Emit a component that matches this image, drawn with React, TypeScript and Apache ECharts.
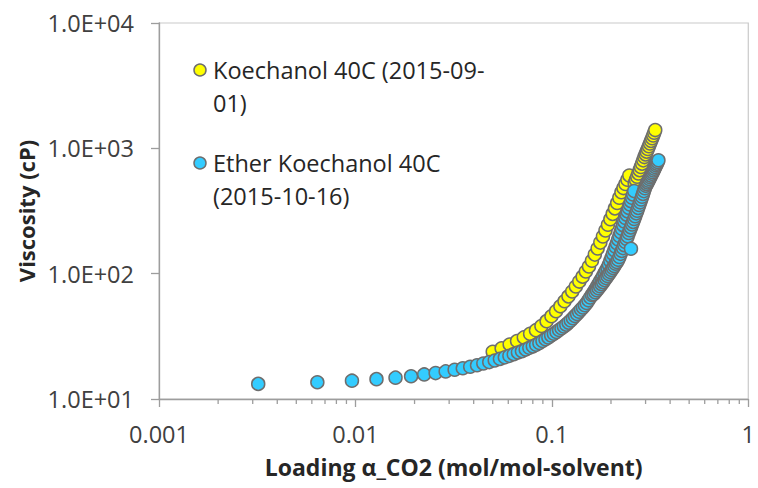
import React, { useEffect, useRef } from 'react';
import * as echarts from 'echarts';

// Axis tick labels (log decades)
const xTickLabels = ['0.001', '0.01', '0.1', '1'];
const yTickLabels = ['1.0E+01', '1.0E+02', '1.0E+03', '1.0E+04'];
// Minor tick multipliers within each x decade
const xMinorSteps = [2, 3, 4, 5, 6, 7, 8, 9];

const seriesNames = ['Koechanol 40C (2015-09-01)', 'Ether Koechanol 40C (2015-10-16)'];
const legendText = ['Koechanol 40C (2015-09-\n01)', 'Ether Koechanol 40C\n(2015-10-16)'];

// Koechanol 40C (2015-09-01): first loading run
const koeLoadingA = [
  0.0500, 0.0555, 0.0610, 0.0665, 0.0720, 0.0775, 0.0830, 0.0885, 0.0940, 0.0995,
  0.1050, 0.1105, 0.1160, 0.1215, 0.1270, 0.1325, 0.1380, 0.1435, 0.1490, 0.1545,
  0.1600, 0.1655, 0.1710, 0.1765, 0.1820, 0.1875, 0.1930, 0.1985, 0.2040, 0.2095,
  0.2150, 0.2205, 0.2260, 0.2315, 0.2370, 0.2425, 0.2480,
];
const koeViscA = [
  23.8, 25.4, 27.2, 29.0, 31.0, 33.1, 35.4, 38.2, 41.8, 45.8,
  50.2, 54.9, 60.2, 65.9, 72.1, 79.0, 86.5, 94.7, 104, 114,
  127, 142, 159, 177, 198, 221, 246, 272, 300, 332,
  366, 404, 446, 482, 520, 562, 607,
];
// Koechanol 40C (2015-09-01): high-loading run
const koeLoadingB = [
  0.264, 0.268, 0.272, 0.276, 0.280, 0.284, 0.288, 0.292, 0.296, 0.300,
  0.304, 0.308, 0.312, 0.316, 0.320, 0.324, 0.328, 0.332, 0.336,
];
const koeViscB = [
  527, 560, 594, 631, 670, 711, 755, 802, 852, 895,
  941, 988, 1039, 1092, 1147, 1205, 1267, 1331, 1399,
];

// Ether Koechanol 40C (2015-10-16): first loading run
const etherLoadingA = [
  0.0032, 0.0064, 0.0096, 0.0128, 0.0160, 0.0192, 0.0224, 0.0256, 0.0288, 0.0320,
  0.0352, 0.0384, 0.0416, 0.0448, 0.0480, 0.0512, 0.0544, 0.0576, 0.0608, 0.0640,
  0.0672, 0.0704, 0.0736, 0.0768, 0.0800, 0.0832, 0.0864, 0.0896, 0.0928, 0.0960,
  0.0992, 0.1024, 0.1056, 0.1088, 0.1120, 0.1152, 0.1184, 0.1216, 0.1248, 0.1280,
  0.1312, 0.1344, 0.1376, 0.1408, 0.1440, 0.1472, 0.1504, 0.1536, 0.1568, 0.1600,
  0.1632, 0.1664, 0.1696, 0.1728, 0.1760, 0.1792, 0.1824, 0.1856, 0.1888, 0.1920,
  0.1952, 0.1984, 0.2016, 0.2048, 0.2080, 0.2112, 0.2144, 0.2176, 0.2208, 0.2240,
  0.2272, 0.2304, 0.2336, 0.2368, 0.2400, 0.2432, 0.2464, 0.2496, 0.2528, 0.2560,
  0.2592, 0.2624,
];
const etherViscA = [
  13.2, 13.6, 14.0, 14.4, 14.8, 15.2, 15.7, 16.1, 16.6, 17.1,
  17.6, 18.1, 18.6, 19.2, 19.7, 20.3, 20.9, 21.5, 22.1, 22.8,
  23.5, 24.1, 24.8, 25.6, 26.3, 27.1, 28.0, 29.0, 30.0, 31.0,
  32.1, 33.2, 34.3, 35.5, 36.7, 37.9, 39.2, 40.7, 42.3, 44.1,
  45.9, 47.7, 49.7, 51.7, 53.8, 56.0, 58.4, 61.3, 64.5, 67.7,
  71.2, 74.8, 78.6, 82.6, 86.8, 91.2, 95.9, 101, 106, 111,
  118, 126, 135, 144, 154, 164, 175, 187, 200, 214,
  228, 244, 261, 278, 296, 314, 335, 356, 379, 403,
  429, 456,
];
// Ether Koechanol 40C (2015-10-16): high-loading run
const etherLoadingB = [
  0.1632, 0.1664, 0.1696, 0.1728, 0.1760, 0.1792, 0.1824, 0.1856, 0.1888, 0.1920,
  0.1952, 0.1984, 0.2016, 0.2048, 0.2080, 0.2112, 0.2144, 0.2176, 0.2208, 0.2240,
  0.2272, 0.2304, 0.2336, 0.2368, 0.2400, 0.2432, 0.2464, 0.2496, 0.2528, 0.2560,
  0.2592, 0.2624, 0.2656, 0.2688, 0.2720, 0.2752, 0.2784, 0.2816, 0.2848, 0.2880,
  0.2912, 0.2944, 0.2976, 0.3008, 0.3040, 0.3072, 0.3104, 0.3136, 0.3168, 0.3200,
  0.3232, 0.3264, 0.3296, 0.3328, 0.3360, 0.3392, 0.3424, 0.3456, 0.3488,
];
const etherViscB = [
  68.5, 71.1, 73.8, 76.6, 79.5, 82.5, 85.6, 88.9, 92.2, 95.7,
  99.3, 103, 107, 111, 115, 120, 124, 129, 136, 144,
  152, 160, 169, 179, 189, 199, 211, 222, 234, 247,
  259, 273, 287, 303, 318, 335, 353, 371, 391, 411,
  433, 456, 480, 502, 518, 535, 552, 569, 588, 606,
  626, 645, 666, 687, 709, 732, 755, 779, 804,
];
// Single stray reading in the ether run
const etherStrayLoading = [0.2528];
const etherStrayVisc = [158];

const seriesColors = ['#FFFF00', '#33CCFF'];
const markerBorder = '#6e6e6e';
const axisGray = '#9d9d9d';
const FONT = '"Open Sans", sans-serif';

const pairs = (xs: number[], ys: number[]) => xs.map((x, i) => [x, ys[i]]);

export default function App() {
  const ref = useRef<HTMLDivElement>(null);

  useEffect(() => {
    if (!ref.current) return;
    const chart = echarts.init(ref.current, undefined, { renderer: 'svg' });

    const koeData = [...pairs(koeLoadingA, koeViscA), ...pairs(koeLoadingB, koeViscB)];
    const etherData = [
      ...pairs(etherLoadingA, etherViscA),
      ...pairs(etherLoadingB, etherViscB),
      ...pairs(etherStrayLoading, etherStrayVisc),
    ];

    const marker = (color: string) => ({
      color,
      borderColor: markerBorder,
      borderWidth: 1.5,
      opacity: 1,
    });

    chart.setOption({
      animation: false,
      backgroundColor: '#ffffff',
      grid: {
        left: 159,
        right: 3,
        top: 23,
        bottom: 89,
        show: true,
        borderColor: '#c9c9c9',
        borderWidth: 1.2,
        backgroundColor: 'transparent',
      },
      xAxis: {
        type: 'log',
        logBase: 10,
        min: 0.001,
        max: 1,
        name: 'Loading α_CO2 (mol/mol-solvent)',
        nameLocation: 'middle',
        nameGap: 56,
        nameTextStyle: { fontFamily: FONT, fontWeight: 'bold', fontSize: 23, color: '#262626' },
        axisLine: { show: true, lineStyle: { color: axisGray, width: 1.3 } },
        axisTick: { show: true, inside: false, length: 8, lineStyle: { color: axisGray, width: 1.3 } },
        axisLabel: {
          margin: 23,
          fontFamily: FONT,
          fontSize: 23.5,
          color: '#404040',
          formatter: (v: number) => xTickLabels[Math.round(Math.log10(v)) + 3] ?? '',
        },
        splitLine: { show: false },
        minorTick: { show: false },
      },
      yAxis: {
        type: 'log',
        logBase: 10,
        min: 10,
        max: 10000,
        name: 'Viscosity (cP)',
        nameLocation: 'middle',
        nameGap: 122,
        nameRotate: 90,
        nameTextStyle: { fontFamily: FONT, fontWeight: 'bold', fontSize: 22, color: '#262626' },
        axisLine: { show: true, lineStyle: { color: axisGray, width: 1.3 } },
        axisTick: { show: true, inside: false, length: 8, lineStyle: { color: axisGray, width: 1.3 } },
        axisLabel: {
          margin: 25,
          fontFamily: FONT,
          fontSize: 23.5,
          color: '#404040',
          formatter: (v: number) => yTickLabels[Math.round(Math.log10(v)) - 1] ?? '',
        },
        splitLine: { show: false },
      },
      series: [
        {
          name: seriesNames[0],
          type: 'scatter',
          symbol: 'circle',
          symbolSize: 13,
          data: koeData,
          itemStyle: marker(seriesColors[0]),
          emphasis: { disabled: true },
        },
        {
          name: seriesNames[1],
          type: 'scatter',
          symbol: 'circle',
          symbolSize: 13,
          data: etherData,
          itemStyle: marker(seriesColors[1]),
          emphasis: { disabled: true },
        },
      ],
    });

    // Minor ticks at 2..9 within each decade, placed through the x axis scale
    const axisY = chart.convertToPixel({ yAxisIndex: 0 }, 10) as number;
    const minorTicks: any[] = [];
    xTickLabels.slice(0, -1).forEach((d) => {
      xMinorSteps.forEach((m) => {
        const px = chart.convertToPixel({ xAxisIndex: 0 }, Number(d) * m) as number;
        minorTicks.push({
          type: 'line',
          silent: true,
          shape: { x1: px, y1: axisY, x2: px, y2: axisY + 5 },
          style: { stroke: axisGray, lineWidth: 1.3 },
        });
      });
    });

    // Legend entries inside the plot
    const legendItems: any[] = [];
    const legendTop = [70, 163];
    seriesNames.forEach((_, i) => {
      legendItems.push({
        type: 'circle',
        silent: true,
        shape: { cx: 200, cy: legendTop[i], r: 6 },
        style: { fill: seriesColors[i], stroke: markerBorder, lineWidth: 1.5 },
      });
      legendItems.push({
        type: 'text',
        silent: true,
        x: 213,
        y: legendTop[i] - 16.5,
        style: {
          text: legendText[i],
          fontFamily: FONT,
          fontSize: 23.5,
          lineHeight: 33,
          fill: '#262626',
          verticalAlign: 'top',
        },
      });
    });

    chart.setOption({ graphic: { elements: [...minorTicks, ...legendItems] } });

    return () => chart.dispose();
  }, []);

  return (
    <div
      ref={ref}
      style={{ position: 'fixed', left: 0, top: 0, width: 758, height: 488, background: '#fff' }}
    />
  );
}
